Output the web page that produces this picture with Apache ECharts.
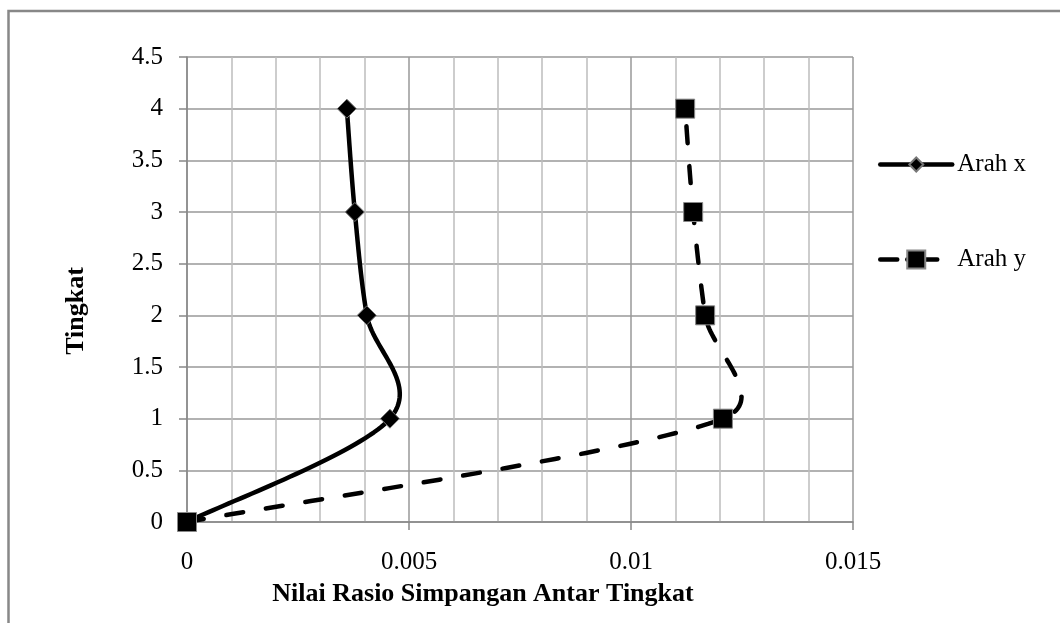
<!DOCTYPE html>
<html>
<head>
<meta charset="utf-8">
<script src="https://cdn.jsdelivr.net/npm/echarts@6/dist/echarts.min.js"></script>
<style>
  html, body { margin: 0; padding: 0; background: #fff; }
  #chart { width: 1060px; height: 623px; }
</style>
</head>
<body>
<div id="chart"></div>
<script>
// Storey levels (vertical axis)
const levels = [0, 1, 2, 3, 4];
// Inter-storey drift ratio per level
const arahX = [0, 0.00457, 0.00405, 0.00378, 0.0036];
const arahY = [0, 0.01207, 0.01167, 0.0114, 0.01122];
const seriesNames = ['Arah x', 'Arah y'];
const xTitle = 'Nilai Rasio Simpangan Antar Tingkat';
const yTitle = 'Tingkat';

const FONT = '"Liberation Serif", "Times New Roman", serif';
const LINE_W = 4.5;
const DASH = [17, 23];

function pairs(xs) {
  return xs.map((v, i) => [v, levels[i]]);
}

function dist(a, b) {
  return Math.hypot(b[0] - a[0], b[1] - a[1]);
}

// Spreadsheet-style smoothed curve: cubic Bezier segments whose control
// arms are 1/6 of the neighbour chord, shortened on short segments.
function smoothPoints(pts) {
  const out = [];
  const n = pts.length;
  const f = 1 / 6;
  for (let i = 0; i < n - 1; i++) {
    const p0 = pts[Math.max(i - 1, 0)];
    const p1 = pts[i];
    const p2 = pts[i + 1];
    const p3 = pts[Math.min(i + 2, n - 1)];
    const d02 = dist(p0, p2), d12 = dist(p1, p2), d13 = dist(p1, p3);
    let f0 = f, f1 = f;
    if (!(d02 * f < d12 / 2 && d13 * f < d12 / 2)) {
      f0 = (d02 * f >= d12 / 2 && d02 > 0) ? d12 / 2 / d02 : f;
      f1 = (d13 * f >= d12 / 2 && d13 > 0) ? d12 / 2 / d13 : f;
    }
    const c1 = [p1[0] + f0 * (p2[0] - p0[0]), p1[1] + f0 * (p2[1] - p0[1])];
    const c2 = [p2[0] - f1 * (p3[0] - p1[0]), p2[1] - f1 * (p3[1] - p1[1])];
    const steps = 40;
    for (let s = (i === 0 ? 0 : 1); s <= steps; s++) {
      const t = s / steps, u = 1 - t;
      const a = u * u * u, b = 3 * u * u * t, c = 3 * u * t * t, d = t * t * t;
      out.push([
        a * p1[0] + b * c1[0] + c * c2[0] + d * p2[0],
        a * p1[1] + b * c1[1] + c * c2[1] + d * p2[1]
      ]);
    }
  }
  return out;
}

function curveSeries(name, values, dash) {
  const data = pairs(values);
  return {
    name: name,
    type: 'custom',
    data: data,
    encode: { x: 0, y: 1 },
    z: 2,
    silent: true,
    renderItem: function (params, api) {
      if (params.dataIndex !== 0) return null;
      const px = data.map(d => api.coord(d));
      return {
        type: 'polyline',
        shape: { points: smoothPoints(px) },
        style: {
          fill: 'none', stroke: '#000', lineWidth: LINE_W,
          lineDash: dash, lineCap: 'round', lineJoin: 'round'
        }
      };
    }
  };
}

function legendBlock(name, top, itemHeight, lineType) {
  return {
    orient: 'vertical',
    left: 878,
    top: top,
    padding: 0,
    itemWidth: 72,
    itemHeight: itemHeight,
    textStyle: { color: '#000', fontFamily: FONT, fontSize: 25 },
    data: [{
      name: name,
      lineStyle: { color: '#000', width: LINE_W, opacity: 1, type: lineType, cap: 'round' }
    }]
  };
}

const chart = echarts.init(document.getElementById('chart'), null, { renderer: 'canvas' });

chart.setOption({
  backgroundColor: '#fff',
  animation: false,
  grid: { left: 187, top: 57, right: 207, bottom: 101, containLabel: false },
  xAxis: {
    type: 'value',
    min: 0, max: 0.015, interval: 0.005,
    axisLine: { show: true, lineStyle: { color: '#888', width: 1.5 } },
    axisTick: { show: true, length: 8, lineStyle: { color: '#888', width: 1.5 } },
    minorTick: { show: false, splitNumber: 5 },
    splitLine: { show: true, lineStyle: { color: '#999', width: 1.5 } },
    minorSplitLine: { show: true, lineStyle: { color: '#bdbdbd', width: 1.5 } },
    axisLabel: { color: '#000', fontFamily: FONT, fontSize: 25, margin: 28 }
  },
  yAxis: {
    type: 'value',
    min: 0, max: 4.5, interval: 0.5,
    axisLine: { show: true, lineStyle: { color: '#888', width: 1.5 } },
    axisTick: { show: true, length: 8, lineStyle: { color: '#888', width: 1.5 } },
    splitLine: { show: true, lineStyle: { color: '#999', width: 1.5 } },
    axisLabel: { color: '#000', fontFamily: FONT, fontSize: 25, margin: 24 }
  },
  legend: [
    legendBlock(seriesNames[0], 152, 17.5, 'solid'),
    legendBlock(seriesNames[1], 247, 22.5, [17, 10, 30, 15])
  ],
  graphic: [
    {
      type: 'rect',
      shape: { x: 8.5, y: 11, width: 1200, height: 800 },
      style: { fill: 'none', stroke: '#888', lineWidth: 2.5 },
      silent: true
    },
    {
      type: 'text',
      x: 483, y: 594,
      style: {
        text: xTitle, fill: '#000', font: 'bold 26px ' + FONT,
        textAlign: 'center', textVerticalAlign: 'middle'
      }
    },
    {
      type: 'text',
      x: 76, y: 311,
      rotation: Math.PI / 2,
      style: {
        text: yTitle, fill: '#000', font: 'bold 26px ' + FONT,
        textAlign: 'center', textVerticalAlign: 'middle'
      }
    }
  ],
  series: [
    curveSeries('Arah x curve', arahX, null),
    {
      name: seriesNames[0],
      type: 'line',
      data: pairs(arahX),
      symbol: 'diamond',
      symbolSize: 19,
      lineStyle: { opacity: 0, width: 0 },
      itemStyle: { color: '#000', borderColor: '#777', borderWidth: 1 },
      z: 3
    },
    curveSeries('Arah y curve', arahY, DASH),
    {
      name: seriesNames[1],
      type: 'line',
      data: pairs(arahY),
      symbol: 'rect',
      symbolSize: 19,
      lineStyle: { opacity: 0, width: 0 },
      itemStyle: { color: '#000', borderColor: '#888', borderWidth: 1 },
      z: 5
    }
  ]
});
</script>
</body>
</html>
